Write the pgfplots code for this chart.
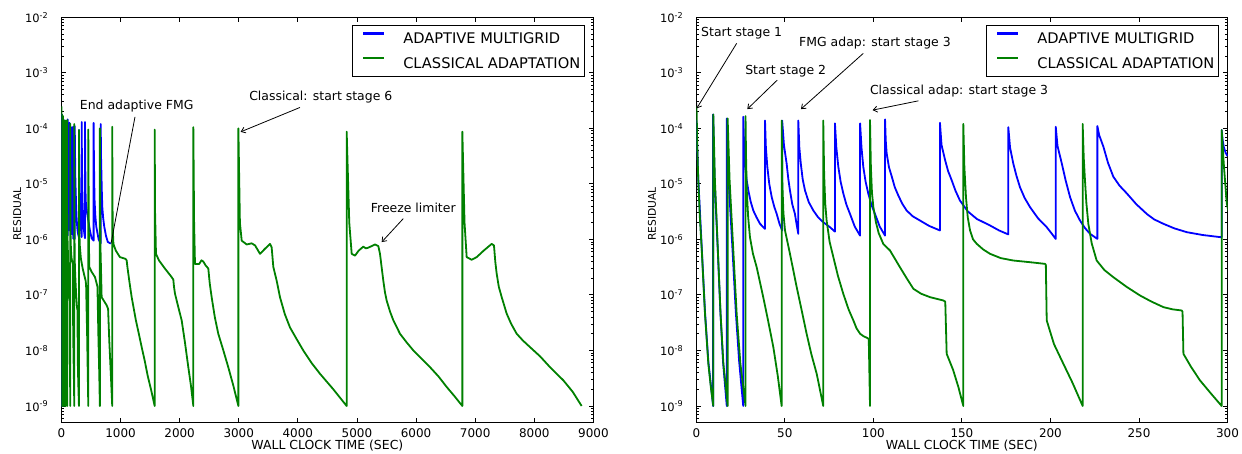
\documentclass[border=0pt]{standalone}
\usepackage{fontspec}
\setmainfont{DejaVu Sans}
\usepackage{pgfplots}
\usepackage{pgfplotstable}
\pgfplotsset{compat=1.18}
\usetikzlibrary{arrows.meta}
\definecolor{mblue}{rgb}{0,0,1}
\definecolor{mgreen}{rgb}{0,0.5,0}

\pgfplotstableread{
t r
0 1.41e-4
1.1 1.26e-5
3.0 7.94e-7
4.9 5.01e-8
6.8 6.31e-9
9.5 1e-9
9.5 1.78e-4
10.3 1.26e-5
12.0 7.94e-7
13.6 5.01e-8
15.1 6.31e-9
17.2 1e-9
17.2 1.51e-4
18.2 1.26e-5
20.3 7.94e-7
22.3 5.01e-8
24.2 6.31e-9
26.5 1e-9
26.5 1.62e-4
27.0 5.0e-5
27.5 2.34e-5
28.4 1.2e-5
29.4 7.59e-6
30.7 4.8e-6
32.2 3.31e-6
34.0 2.5e-6
36.0 1.91e-6
38.8 1.55e-6
38.8 1.38e-4
39.3 4.5e-5
40.1 2.04e-5
41.2 1.0e-5
42.6 5.75e-6
44.0 3.9e-6
45.4 2.88e-6
47.0 1.9e-6
48.5 1.45e-6
48.5 1.38e-4
49.5 5.0e-5
51.0 2.34e-5
52.0 1.2e-5
52.9 7.59e-6
54.2 4.3e-6
55.7 2.88e-6
56.6 1.9e-6
57.6 1.26e-6
57.6 1.38e-4
58.2 4.5e-5
59.0 2.34e-5
60.1 1.2e-5
61.4 7.59e-6
63.5 4.7e-6
66.1 3.31e-6
68.8 2.5e-6
71.7 2.04e-6
75.5 1.66e-6
78.3 1.38e-6
78.3 1.23e-4
79.1 4.5e-5
80.2 2.04e-5
81.5 1.1e-5
83.0 6.76e-6
84.8 4.2e-6
86.8 2.88e-6
89.5 1.7e-6
92.5 1.17e-6
92.5 1.23e-4
93.3 4.5e-5
94.3 2.04e-5
95.6 1.1e-5
97.1 6.76e-6
98.9 4.2e-6
100.9 2.88e-6
103.6 1.7e-6
106.6 1.17e-6
106.6 1.45e-4
107.0 6.0e-5
107.5 3.55e-5
108.8 2.0e-5
110.4 1.35e-5
112.1 8.7e-6
114.1 6.17e-6
116.3 4.4e-6
118.8 3.31e-6
122.3 2.6e-6
126.3 2.19e-6
131.5 1.75e-6
137.6 1.45e-6
137.6 1.26e-4
138.5 5.0e-5
140.5 2.69e-5
142.2 1.7e-5
144.2 1.17e-5
146.4 7.5e-6
148.9 5.01e-6
153.3 3.2e-6
158.4 2.34e-6
165.9 1.78e-6
171.0 1.45e-6
176.2 1.23e-6
176.2 1.05e-4
177.2 4.5e-5
179.0 2.34e-5
180.8 1.4e-5
182.8 8.71e-6
185.4 5.6e-6
188.5 3.8e-6
193.0 2.4e-6
197.9 1.66e-6
200.5 1.3e-6
203.0 1.02e-6
203.0 1.07e-4
204.0 4.8e-5
206.4 2.34e-5
208.6 1.15e-5
211.1 5.75e-6
213.8 3.3e-6
216.7 2.19e-6
219.5 1.6e-6
222.4 1.26e-6
226.5 1.02e-6
226.5 1.10e-4
227.5 7.59e-5
229.9 4.68e-5
232.5 2.4e-5
235.5 1.35e-5
239.0 9.3e-6
243.1 6.76e-6
248.5 4.3e-6
254.4 2.88e-6
258.5 2.3e-6
263.8 1.91e-6
270.0 1.58e-6
277.0 1.35e-6
286.0 1.2e-6
295.8 1.10e-6
296.7 1.10e-6
296.7 9.33e-5
297.3 6.0e-5
298.0 4.47e-5
299.0 3.6e-5
300.0 3.16e-5
304 1.2e-5
310 5e-6
318 2.6e-6
328 1.7e-6
343 1.1e-6
343 1.3e-4
347 3e-5
352 1e-5
357 5e-6
368 2.4e-6
383 1.4e-6
399 1.05e-6
399 1.3e-4
403 3e-5
407 1e-5
411 5e-6
430 3.2e-6
455 2.2e-6
485 1.4e-6
512 1.05e-6
545 9.5e-7
545 1.25e-4
550 3e-5
556 1e-5
562 4.8e-6
575 2.6e-6
590 1.7e-6
630 1.0e-6
665 8.5e-7
665 1.2e-4
671 3e-5
683 8e-6
692 3.8e-6
707 2.4e-6
725 1.7e-6
755 1.15e-6
785 9e-7
835 8.4e-7
}\bluedata

\pgfplotstableread{
t r
0 2.5e-4
0.2 1.86e-4
0.6 4.0e-5
1.1 1.17e-5
2.0 2.5e-6
3.0 7.24e-7
4.9 4.57e-8
6.8 5.75e-9
8.2 2.2e-9
9.6 1e-9
9.6 1.78e-4
10.5 1.17e-5
12.1 7.24e-7
13.7 4.57e-8
15.3 5.75e-9
17.7 1e-9
17.7 1.51e-4
18.8 1.17e-5
20.8 7.24e-7
22.8 4.57e-8
24.9 5.75e-9
27.8 1e-9
27.8 1.66e-4
28.1 3.0e-5
28.5 7.59e-6
29.3 2.5e-6
30.3 1.10e-6
32.0 5.5e-7
34.1 3.16e-7
37.8 9.12e-8
40.5 3.5e-8
43.5 1.15e-8
46.0 3.5e-9
48.2 1e-9
48.2 1.38e-4
48.6 1.0e-5
49.2 3.0e-6
50.1 1.45e-6
52.9 5.50e-7
56.7 1.38e-7
59.5 5.3e-8
62.3 2.00e-8
65.0 8.5e-9
68.0 3.80e-9
71.7 1e-9
71.7 1.38e-4
72.2 1.5e-5
72.8 4.5e-6
73.6 2.19e-6
75.3 9.0e-7
77.4 4.79e-7
80.0 2.2e-7
83.0 1.05e-7
86.0 5.5e-8
88.7 3.47e-8
90.5 2.5e-8
92.5 2.00e-8
94.5 1.8e-8
96.2 1.70e-8
97.4 1.62e-8
98.1 1e-9
98.1 1.41e-4
98.6 2.0e-5
99.2 7.0e-6
100.0 3.80e-6
101.5 2.0e-6
103.0 1.30e-6
105.6 8.30e-7
109.4 6.31e-7
115.0 3.16e-7
118.8 2.0e-7
122.6 1.29e-7
127.0 1.05e-7
132.0 9.12e-8
139.5 7.94e-8
140.6 7.60e-8
141.4 8.71e-9
145.0 4.5e-9
148.0 2.2e-9
150.8 1e-9
150.8 1.20e-4
151.4 2.0e-5
152.3 5.75e-6
153.3 2.5e-6
154.6 1.45e-6
156.3 1.0e-6
158.4 8.32e-7
162.0 6.6e-7
165.9 5.50e-7
172.0 4.6e-7
179.0 4.17e-7
188.0 3.9e-7
196.9 3.63e-7
197.4 3.50e-7
197.9 3.47e-8
202.0 1.3e-8
207.3 5.75e-9
212.5 2.6e-9
218.2 1e-9
218.2 1.20e-4
218.8 3.0e-5
219.5 1.17e-5
220.3 4.5e-6
221.4 1.91e-6
223.3 8.5e-7
226.1 4.17e-7
230.5 2.8e-7
235.5 2.09e-7
243.0 1.4e-7
250.6 9.77e-8
257.0 7.6e-8
263.8 6.03e-8
269.0 5.5e-8
274.1 5.25e-8
274.6 5.00e-8
275.1 8.71e-9
279.5 5.0e-9
284.5 2.88e-9
290.5 1.7e-9
296.7 1e-9
296.7 9.33e-5
298.0 2.04e-5
299.6 4.37e-6
302 2.0e-6
310 8e-7
330 4.5e-7
360 3e-7
390 2.2e-7
410 1.8e-7
418 1.5e-7
435 2e-8
455 1e-9
455 9.5e-5
465 1e-6
472 3.2e-7
512 2.6e-7
568 2.1e-7
597 1.6e-7
610 1.4e-7
625 2e-8
640 4e-9
651 1e-9
651 1e-4
660 8e-7
681 9.1e-8
766 6.5e-8
790 5.6e-8
810 1.5e-8
835 4e-9
860 1e-9
860 1.07e-4
865 4.0e-6
870 1.5e-6
880 8.3e-7
920 6.3e-7
990 4.8e-7
1075 4.5e-7
1090 4.4e-7
1104 4.2e-7
1115 3.3e-7
1130 2.5e-7
1155 1.6e-7
1189 9.1e-8
1225 5.6e-8
1260 3.5e-8
1310 2.0e-8
1358 1.15e-8
1410 6.5e-9
1460 3.5e-9
1520 1.9e-9
1578 1e-9
1578 9.5e-5
1585 3.0e-6
1600 5.5e-7
1650 4.2e-7
1750 3.0e-7
1850 2.2e-7
1893 1.9e-7
1905 1.4e-7
1922 1.05e-7
1975 6.2e-8
2035 3.47e-8
2090 1.4e-8
2147 5.0e-9
2190 2.4e-9
2232 1e-9
2232 1.05e-4
2245 2.0e-6
2260 3.6e-7
2330 3.6e-7
2370 4.2e-7
2400 4.0e-7
2440 3.4e-7
2485 3.0e-7
2510 1.6e-7
2542 9.1e-8
2595 4.0e-8
2654 2.0e-8
2740 1.0e-8
2823 5.0e-9
2910 2.3e-9
2994 1e-9
2994 1.0e-4
3020 2.0e-6
3050 9.5e-7
3135 8.1e-7
3219 8.5e-7
3276 7.8e-7
3360 5.5e-7
3445 6.8e-7
3529 8.3e-7
3557 7.2e-7
3585 3.2e-7
3642 1.8e-7
3698 9.1e-8
3780 4.5e-8
3867 2.6e-8
3980 1.6e-8
4092 1.0e-8
4230 6.0e-9
4375 3.8e-9
4600 2.0e-9
4826 1e-9
4826 8.7e-5
4870 2.0e-6
4911 5.5e-7
4967 5.1e-7
5030 6.3e-7
5107 7.4e-7
5150 6.9e-7
5192 7.1e-7
5250 7.6e-7
5305 8.1e-7
5361 7.6e-7
5390 5.5e-7
5420 3.0e-7
5446 1.8e-7
5475 1.1e-7
5503 7.9e-8
5560 5.0e-8
5615 3.5e-8
5728 2.0e-8
5840 1.4e-8
5954 1.0e-8
6100 7.0e-9
6236 5.0e-9
6380 3.4e-9
6518 2.2e-9
6650 1.5e-9
6783 1e-9
6783 8.7e-5
6820 2.0e-6
6856 4.8e-7
6941 4.3e-7
7026 4.8e-7
7138 6.2e-7
7210 7.2e-7
7279 8.3e-7
7318 7.8e-7
7340 4.0e-7
7364 2.4e-7
7400 1.4e-7
7449 9.1e-8
7533 4.6e-8
7610 3.0e-8
7702 2.0e-8
7810 1.5e-8
7927 1.15e-8
8100 7.8e-9
8266 5.0e-9
8491 2.9e-9
8650 1.8e-9
8801 1e-9
}\greendata

\newcommand{\annfont}{\fontsize{12.5}{15}\selectfont}
\newcommand{\ytl}[1]{10\textsuperscript{-#1}}

\begin{document}
\begin{tikzpicture}
\path[use as bounding box] (0,0) rectangle (1242bp,454bp);
\begin{axis}[at={(61.4bp,31.3bp)}, anchor=south west,
  scale only axis, width=532bp, height=405.4bp,
  xmin=0, xmax=9000, xtick={0,1000,2000,3000,4000,5000,6000,7000,8000,9000},
  ymode=log, ymin=5e-10, ymax=1e-2,
  ytick={1e-9,1e-8,1e-7,1e-6,1e-5,1e-4,1e-3,1e-2},
  yticklabels={\ytl{9},\ytl{8},\ytl{7},\ytl{6},\ytl{5},\ytl{4},\ytl{3},\ytl{2}},
  minor ytick={6e-10,7e-10,8e-10,9e-10,2e-9,3e-9,4e-9,5e-9,6e-9,7e-9,8e-9,9e-9,2e-8,3e-8,4e-8,5e-8,6e-8,7e-8,8e-8,9e-8,2e-7,3e-7,4e-7,5e-7,6e-7,7e-7,8e-7,9e-7,2e-6,3e-6,4e-6,5e-6,6e-6,7e-6,8e-6,9e-6,2e-5,3e-5,4e-5,5e-5,6e-5,7e-5,8e-5,9e-5,2e-4,3e-4,4e-4,5e-4,6e-4,7e-4,8e-4,9e-4,2e-3,3e-3,4e-3,5e-3,6e-3,7e-3,8e-3,9e-3},
  tick align=inside, tick pos=both,
  major tick length=4.8bp, minor tick length=2.4bp,
  every tick/.style={black, line width=0.9bp},
  axis line style={line width=1bp},
  xticklabel style={font=\fontsize{12}{14}\selectfont, inner sep=0pt, anchor=north, yshift=-5.5bp, /pgf/number format/assume math mode=true, /pgf/number format/1000 sep={}},
  yticklabel style={font=\fontsize{11.5}{13}\selectfont, inner sep=0pt, anchor=east, xshift=-13bp},
  xlabel={WALL CLOCK TIME (SEC)},
  ylabel={RESIDUAL},
  xlabel style={font=\fontsize{12.5}{15}\selectfont, at={(axis description cs:0.5,-0.0575)}, anchor=center},
  ylabel style={font=\fontsize{10.7}{13}\selectfont, at={(axis description cs:-0.0831,0.515)}, anchor=center},
  legend style={at={(1,1)}, anchor=north east, xshift=-8.4bp, yshift=-7.7bp,
   draw=black, line width=0.8bp, font=\fontsize{14.7}{16}\selectfont,
   inner xsep=4.3bp, inner ysep=7bp, row sep=11.7bp, nodes={inner sep=0pt}},
  legend cell align=left,
  legend image code/.code={\path (0bp,0bp); \fill[#1, draw=none] (5.4bp,4.3bp) rectangle (26.4bp,6.7bp); \path (44.7bp,0bp);},
  every axis plot/.append style={line width=1.8bp, line join=round}]
\addplot[mblue] table[x=t,y=r] {\bluedata};
\addplot[mgreen] table[x=t,y=r] {\greendata};
\legend{ADAPTIVE MULTIGRID, CLASSICAL ADAPTATION}
\node[font=\annfont] at (axis cs:1274,2.51e-4) {End adaptive FMG};
\draw[line width=0.8bp] (axis cs:1245,1.61e-4) -- (axis cs:839,8.4e-7);
\node[font=\annfont] at (axis cs:4388,3.6e-4) {Classical: start stage 6};
\draw[line width=0.8bp, -{Straight Barb[length=4bp,width=6bp]}] (axis cs:4036,2.38e-4) -- (axis cs:3033,8.65e-5);
\node[font=\annfont] at (axis cs:5953,3.68e-6) {Freeze limiter};
\draw[line width=0.8bp, -{Straight Barb[length=4bp,width=6bp]}] (axis cs:5784,2.37e-6) -- (axis cs:5418,8.95e-7);
\end{axis}
\begin{axis}[at={(696.3bp,31.3bp)}, anchor=south west,
  scale only axis, width=531.2bp, height=405.4bp,
  xmin=0, xmax=300, xtick={0,50,100,150,200,250,300}, restrict x to domain=0:302,
  ymode=log, ymin=5e-10, ymax=1e-2,
  ytick={1e-9,1e-8,1e-7,1e-6,1e-5,1e-4,1e-3,1e-2},
  yticklabels={\ytl{9},\ytl{8},\ytl{7},\ytl{6},\ytl{5},\ytl{4},\ytl{3},\ytl{2}},
  minor ytick={6e-10,7e-10,8e-10,9e-10,2e-9,3e-9,4e-9,5e-9,6e-9,7e-9,8e-9,9e-9,2e-8,3e-8,4e-8,5e-8,6e-8,7e-8,8e-8,9e-8,2e-7,3e-7,4e-7,5e-7,6e-7,7e-7,8e-7,9e-7,2e-6,3e-6,4e-6,5e-6,6e-6,7e-6,8e-6,9e-6,2e-5,3e-5,4e-5,5e-5,6e-5,7e-5,8e-5,9e-5,2e-4,3e-4,4e-4,5e-4,6e-4,7e-4,8e-4,9e-4,2e-3,3e-3,4e-3,5e-3,6e-3,7e-3,8e-3,9e-3},
  tick align=inside, tick pos=both,
  major tick length=4.8bp, minor tick length=2.4bp,
  every tick/.style={black, line width=0.9bp},
  axis line style={line width=1bp},
  xticklabel style={font=\fontsize{12}{14}\selectfont, inner sep=0pt, anchor=north, yshift=-5.5bp, /pgf/number format/assume math mode=true, /pgf/number format/1000 sep={}},
  yticklabel style={font=\fontsize{11.5}{13}\selectfont, inner sep=0pt, anchor=east, xshift=-13bp},
  xlabel={WALL CLOCK TIME (SEC)},
  ylabel={RESIDUAL},
  xlabel style={font=\fontsize{12.5}{15}\selectfont, at={(axis description cs:0.5,-0.0575)}, anchor=center},
  ylabel style={font=\fontsize{10.7}{13}\selectfont, at={(axis description cs:-0.0834,0.515)}, anchor=center},
  legend style={at={(1,1)}, anchor=north east, xshift=-8.4bp, yshift=-7.7bp,
   draw=black, line width=0.8bp, font=\fontsize{14.7}{16}\selectfont,
   inner xsep=4.3bp, inner ysep=7bp, row sep=11.7bp, nodes={inner sep=0pt}},
  legend cell align=left,
  legend image code/.code={\path (0bp,0bp); \fill[#1, draw=none] (5.4bp,4.3bp) rectangle (26.4bp,6.7bp); \path (44.7bp,0bp);},
  every axis plot/.append style={line width=1.8bp, line join=round}]
\addplot[mblue] table[x=t,y=r] {\bluedata};
\addplot[mgreen] table[x=t,y=r] {\greendata};
\legend{ADAPTIVE MULTIGRID, CLASSICAL ADAPTATION}
\node[font=\annfont] at (axis cs:25.6,5.14e-3) {Start stage 1};
\draw[line width=0.8bp, -{Straight Barb[length=4bp,width=6bp]}] (axis cs:22.8,3.4e-3) -- (axis cs:0.23,2.29e-4);
\node[font=\annfont] at (axis cs:50.5,1.07e-3) {Start stage 2};
\draw[line width=0.8bp, -{Straight Barb[length=4bp,width=6bp]}] (axis cs:45.7,7.39e-4) -- (axis cs:28.8,2.22e-4);
\node[font=\annfont] at (axis cs:100.9,3.4e-3) {FMG adap: start stage 3};
\draw[line width=0.8bp, -{Straight Barb[length=4bp,width=6bp]}] (axis cs:94.3,2.24e-3) -- (axis cs:59.1,2.22e-4);
\node[font=\annfont] at (axis cs:148.4,4.69e-4) {Classical adap: start stage 3};
\draw[line width=0.8bp, -{Straight Barb[length=4bp,width=6bp]}] (axis cs:125.4,3.13e-4) -- (axis cs:99.6,2.13e-4);
\end{axis}
\end{tikzpicture}
\end{document}
